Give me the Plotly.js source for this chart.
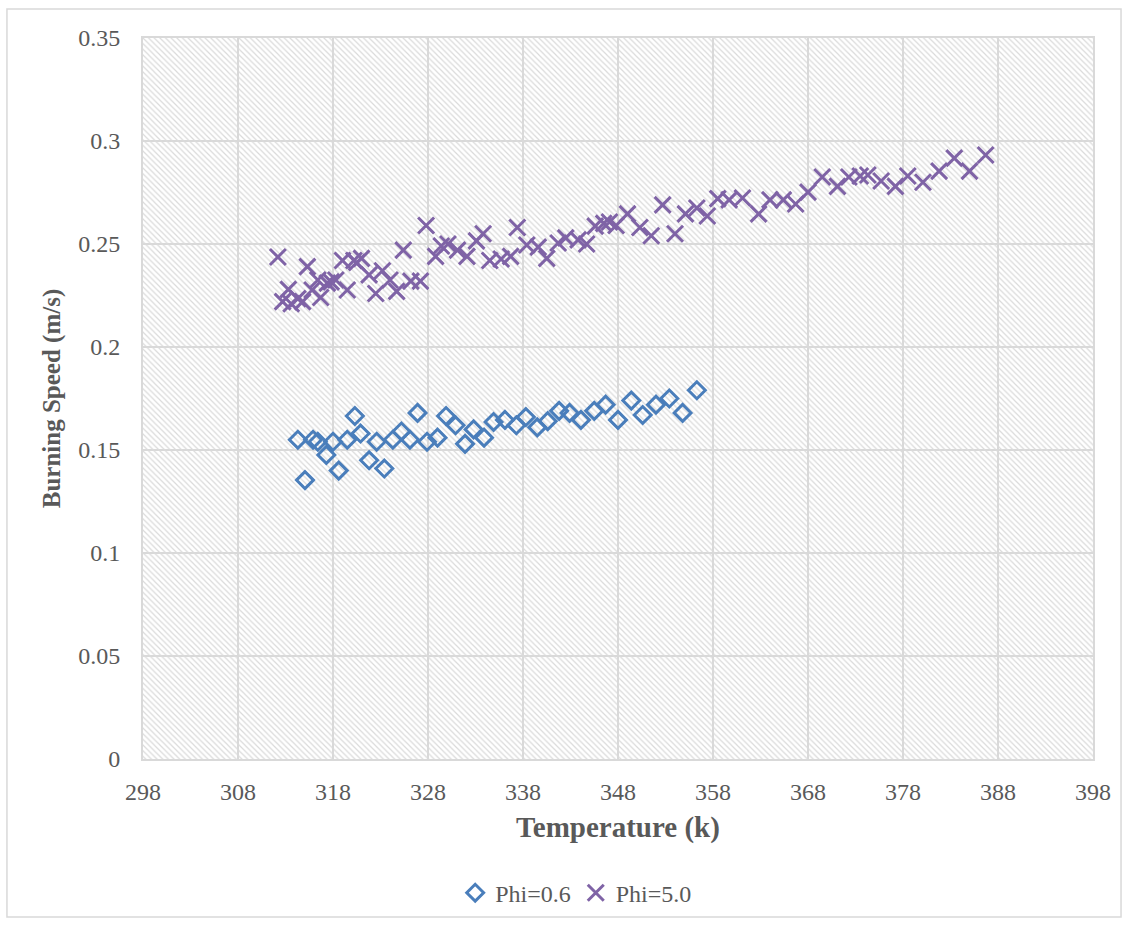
<!DOCTYPE html>
<html>
<head>
<meta charset="utf-8">
<script src="https://cdn.plot.ly/plotly-3.0.1.min.js"></script>
<style>
html,body{margin:0;padding:0;background:#fff;}
#chart{width:1130px;height:926px;}
</style>
</head>
<body>
<div id="chart"></div>
<script>
// Phi = 0.6 series
const phi06Temp = [314.3,315.05,315.9,316.4,317.3,318.0,318.6,319.5,320.3,320.9,321.8,322.6,323.4,324.3,325.2,326.1,326.9,327.9,329.0,329.9,330.9,331.9,332.8,333.9,334.9,336.1,337.3,338.3,339.5,340.6,341.8,342.9,344.1,345.5,346.7,348.0,349.4,350.6,352.0,353.4,354.8,356.3];
const phi06Speed = [0.155,0.1354,0.155,0.154,0.1476,0.154,0.140,0.155,0.1665,0.158,0.145,0.154,0.141,0.155,0.159,0.155,0.168,0.154,0.156,0.1665,0.162,0.153,0.160,0.156,0.1636,0.1646,0.162,0.166,0.161,0.164,0.169,0.168,0.1646,0.169,0.172,0.1646,0.174,0.167,0.172,0.175,0.168,0.179];

// Phi = 5.0 series
const phi50Temp = [312.2,312.7,313.3,313.6,314.3,314.8,315.3,315.8,316.4,316.7,317.4,317.8,318.3,319.0,319.5,320.2,320.5,321.0,321.8,322.5,323.2,324.0,324.7,325.4,326.2,327.2,327.8,328.8,329.4,330.1,331.1,332.1,333.1,333.8,334.5,335.7,336.7,337.4,338.4,339.6,340.5,341.7,342.5,343.8,344.7,345.6,346.5,347.1,347.8,349.0,350.3,351.5,352.7,354.0,355.1,356.3,357.4,358.5,359.7,361.1,362.8,364.0,365.4,366.7,368.0,369.5,371.1,372.3,373.5,374.3,375.7,377.2,378.5,380.1,381.8,383.4,385.0,386.7];
const phi50Speed = [0.2437,0.2220,0.2280,0.2210,0.2235,0.2220,0.2390,0.2277,0.2325,0.2240,0.2310,0.2316,0.2325,0.2420,0.2277,0.2420,0.2410,0.2430,0.2350,0.2260,0.2370,0.2325,0.2270,0.2470,0.2320,0.2320,0.2590,0.2440,0.2490,0.2500,0.2470,0.2440,0.2515,0.2550,0.2420,0.2427,0.2440,0.2580,0.2495,0.2485,0.2430,0.2505,0.2530,0.2520,0.2500,0.2587,0.2600,0.2607,0.2590,0.2646,0.2580,0.2540,0.2690,0.2550,0.2646,0.2675,0.2636,0.2720,0.2714,0.2723,0.2646,0.2714,0.2714,0.2694,0.2752,0.2825,0.2780,0.2825,0.2830,0.2835,0.2806,0.2780,0.2830,0.2800,0.2854,0.2917,0.2854,0.2932];

const yTickVals = [0,0.05,0.1,0.15,0.2,0.25,0.3,0.35];
const yTickText = ['0','0.05','0.1','0.15','0.2','0.25','0.3','0.35'];
const xTickVals = [298,308,318,328,338,348,358,368,378,388,398];

const xRange = [298,398];
const yRange = [0,0.35];

const FONT = '"Liberation Serif", "DejaVu Serif", serif';
const TXT = '#595959';

const traces = [
  {
    // hatched plot-area background
    x: [xRange[0], xRange[1], xRange[1], xRange[0], xRange[0]],
    y: [yRange[0], yRange[0], yRange[1], yRange[1], yRange[0]],
    type: 'scatter', mode: 'lines', fill: 'toself',
    line: {width: 0, color: 'rgba(0,0,0,0)'},
    fillcolor: 'rgba(0,0,0,0)',
    fillpattern: {shape: '\\', fgcolor: '#dadada', bgcolor: 'rgba(0,0,0,0)', size: 4, solidity: 0.3},
    hoverinfo: 'skip', showlegend: false
  },
  {
    name: 'Phi=0.6', x: phi06Temp, y: phi06Speed,
    type: 'scatter', mode: 'markers',
    marker: {symbol: 'diamond-open', size: 13, color: '#4A7EBB', line: {width: 3, color: '#4A7EBB'}}
  },
  {
    name: 'Phi=5.0', x: phi50Temp, y: phi50Speed,
    type: 'scatter', mode: 'markers',
    marker: {symbol: 'x-thin-open', size: 16, color: '#7F63A6', line: {width: 3, color: '#7F63A6'}}
  }
];

const layout = {
  width: 1130, height: 926,
  margin: {l: 143, r: 37, t: 38, b: 167, autoexpand: false},
  paper_bgcolor: '#ffffff', plot_bgcolor: '#ffffff',
  font: {family: FONT, color: TXT, size: 24},
  showlegend: true,
  legend: {
    orientation: 'h', x: 0.456, xanchor: 'center', y: -0.186, yanchor: 'middle',
    bgcolor: 'rgba(0,0,0,0)',
    font: {family: FONT, size: 24, color: TXT}, itemwidth: 30, tracegroupgap: 0
  },
  xaxis: {
    range: xRange, tickvals: xTickVals, ticktext: xTickVals.map(String),
    showgrid: true, gridcolor: '#d9d9d9', gridwidth: 2, zeroline: false,
    showline: true, linecolor: '#d9d9d9', linewidth: 2, mirror: true,
    ticks: 'outside', ticklen: 10, tickcolor: 'rgba(0,0,0,0)',
    tickfont: {family: FONT, size: 24, color: TXT},
    title: {text: '<b>Temperature (k)</b>', font: {family: FONT, size: 29, color: TXT}, standoff: 13}
  },
  yaxis: {
    range: yRange, tickvals: yTickVals, ticktext: yTickText,
    showgrid: true, gridcolor: '#d9d9d9', gridwidth: 2, zeroline: false,
    showline: true, linecolor: '#d9d9d9', linewidth: 2, mirror: true,
    ticks: 'outside', ticklen: 16, tickcolor: 'rgba(0,0,0,0)',
    tickfont: {family: FONT, size: 24, color: TXT},
    title: {text: '<b>Burning Speed (m/s)</b>', font: {family: FONT, size: 25, color: TXT}, standoff: 10}
  },
  shapes: [
    {type: 'rect', xref: 'paper', yref: 'paper', x0: -0.1432, x1: 1.0295, y0: -0.2191, y1: 1.0402,
     line: {color: '#d9d9d9', width: 1.5}, fillcolor: 'rgba(0,0,0,0)', layer: 'below'}
  ]
};

Plotly.newPlot('chart', traces, layout, {displayModeBar: false, staticPlot: true});
</script>
</body>
</html>
